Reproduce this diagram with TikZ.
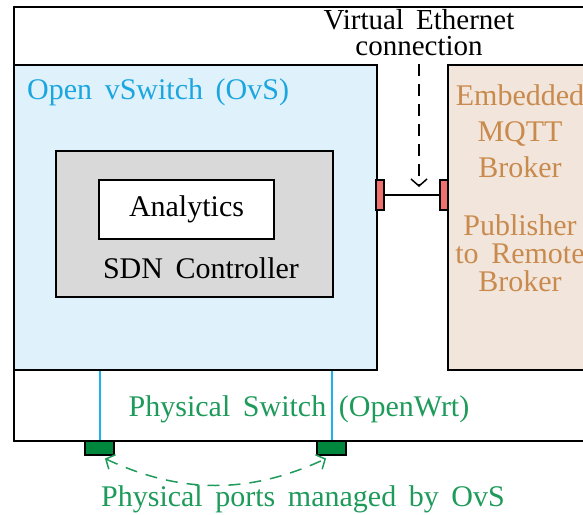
\documentclass[tikz,border=0pt]{standalone}
\usepackage{fontspec}
\setmainfont{Liberation Serif}
\usetikzlibrary{positioning, arrows, arrows.meta}

\definecolor{ovsfill}{HTML}{DFF1FB}
\definecolor{ovsblue}{HTML}{1BA6E0}
\definecolor{linkblue}{HTML}{1FB0F0}
\definecolor{sdngray}{HTML}{D9D9D9}
\definecolor{brokerfill}{HTML}{F2E5DB}
\definecolor{brokertext}{HTML}{C98A4E}
\definecolor{physgreen}{HTML}{1E9A5A}
\definecolor{portgreen}{HTML}{00873E}
\definecolor{portred}{HTML}{F07070}

\newcommand{\figfont}[2]{\fontsize{#1}{#2}\selectfont\spaceskip=0.42em\relax}

\tikzset{
    box/.style={draw, line width=2pt, rectangle, inner sep=0pt},
    port/.style={draw, line width=2pt, rectangle, inner sep=0pt},
    barb/.style={>={Straight Barb[length=7pt, width=16pt]}},
}

\begin{document}
\begin{tikzpicture}[x=1pt, y=1pt, font=\figfont{30}{33}]
    \clip (0,0) rectangle (583,-514);

    \node (switch) [box, minimum width=600pt, minimum height=434pt, anchor=north west] at (13,-6) {};
    \node (ovs) [box, fill=ovsfill, minimum width=363pt, minimum height=305pt, anchor=north west] at (13,-64) {};
    \node (broker) [box, fill=brokerfill, minimum width=150pt, minimum height=305pt, anchor=north west] at (447,-64) {};
    \node (ovslabel) [text=ovsblue, anchor=west, inner sep=0pt] at (27,-92) {Open vSwitch (OvS)};

    \node (sdn) [box, fill=sdngray, minimum width=277pt, minimum height=146pt, anchor=north west] at (55,-150) {};
    \node (analytics) [box, fill=white, minimum width=175pt, minimum height=59pt] at (186.5,-209.5) {Analytics};
    \node (sdnlabel) at (201,-268) {SDN Controller};

    \node (mqtt) [text=brokertext, align=center, font=\figfont{30}{36}] at (520,-131) {Embedded\\MQTT\\Broker};
    \node (publisher) [text=brokertext, align=center, font=\figfont{30}{28}] at (520,-253) {Publisher\\to Remote\\Broker};

    \node (vethlabel) [align=center, inner sep=0pt, font=\figfont{29}{26}] at (419,-33) {Virtual Ethernet\\connection};
    \node (vethL) [port, fill=portred, minimum width=8pt, minimum height=30pt] at (380,-195) {};
    \node (vethR) [port, fill=portred, minimum width=8pt, minimum height=30pt] at (444,-195) {};
    \coordinate (vethtop) at (419,-64);
    \coordinate (vethtip) at (419,-187);

    \draw [line width=1.5pt] (vethL.east) -- (vethR.west);
    \draw [->, barb, line width=1.5pt, dash pattern=on 12pt off 8pt] (vethtop) -- (vethtip);

    \node (physlabel) [text=physgreen] at (299,-409) {Physical Switch (OpenWrt)};
    \node (portL) [port, fill=portgreen, minimum width=29pt, minimum height=14pt] at (99.5,-448) {};
    \node (portR) [port, fill=portgreen, minimum width=29pt, minimum height=14pt] at (331.5,-448) {};
    \node (portslabel) [text=physgreen] at (303,-499) {Physical ports managed by OvS};

    \draw [draw=linkblue, line width=2pt] (ovs.south -| portL.north) -- (portL.north);
    \draw [draw=linkblue, line width=2pt] (ovs.south -| portR.north) -- (portR.north);
    \draw [<->, barb, physgreen, line width=1.5pt, dash pattern=on 12pt off 9pt, shorten <=6pt, shorten >=6pt] (portL.south) to[bend right=25] (portR.south);
\end{tikzpicture}
\end{document}
